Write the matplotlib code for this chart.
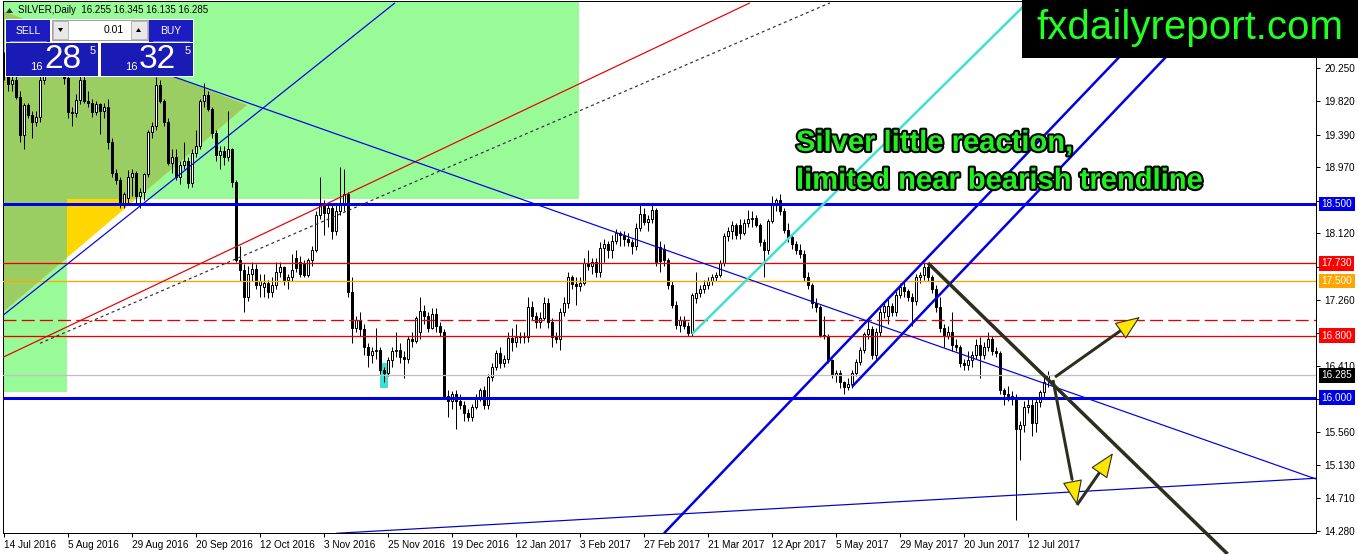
import matplotlib
matplotlib.use('Agg')
import matplotlib.pyplot as plt
import matplotlib.patches as mpatches
import matplotlib.patheffects as pe
import numpy as np

W, H = 1358, 554

# daily OHLC of SILVER, 14 Jul 2016 .. 19 Jul 2017
opens = [20.35, 20.20, 20.05, 20.10, 19.88, 19.38, 19.77, 19.65, 19.55, 19.62,
         20.10, 20.30, 20.45, 20.35, 20.45, 20.25, 20.12, 19.68, 19.67, 19.84,
         20.10, 19.82, 19.80, 19.68, 19.78, 19.70, 19.75, 19.30, 18.90, 18.80,
         18.50, 18.58, 18.84, 18.90, 18.60, 18.65, 18.88, 19.42, 19.50, 20.03,
         19.82, 19.55, 19.03, 19.10, 18.85, 19.00, 19.05, 18.77, 19.15, 19.25,
         19.82, 19.90, 19.72, 19.41, 19.13, 19.18, 19.10, 19.20, 18.78, 17.77,
         17.65, 17.30, 17.60, 17.66, 17.45, 17.42, 17.48, 17.36, 17.45, 17.62,
         17.68, 17.52, 17.56, 17.80, 17.75, 17.72, 17.58, 17.77, 17.90, 18.35,
         18.48, 18.38, 18.45, 18.15, 18.40, 18.48, 18.62, 17.36, 16.90, 17.00,
         16.88, 16.65, 16.55, 16.60, 16.62, 16.35, 16.32, 16.49, 16.60, 16.62,
         16.52, 16.50, 16.75, 16.73, 16.85, 17.12, 17.05, 16.90, 17.08, 16.92,
         16.84, 16.02, 15.95, 16.05, 15.95, 15.90, 15.80, 15.75, 15.88, 16.00,
         16.10, 15.90, 16.27, 16.40, 16.57, 16.45, 16.50, 16.77, 16.72, 16.78,
         16.80, 16.78, 17.17, 17.05, 16.97, 17.02, 17.22, 16.97, 16.78, 16.75,
         17.10, 17.22, 17.55, 17.46, 17.44, 17.48, 17.73, 17.70, 17.75, 17.62,
         17.93, 17.98, 17.90, 18.02, 18.12, 18.10, 18.04, 18.00, 17.95, 18.19,
         18.37, 18.27, 18.30, 18.42, 17.94, 17.92, 17.78, 17.45, 17.20, 16.93,
         17.00, 16.92, 16.83, 17.28, 17.35, 17.40, 17.45, 17.50, 17.55, 17.58,
         17.73, 18.08, 18.15, 18.22, 18.22, 18.12, 18.25, 18.30, 18.32, 18.22,
         18.00, 17.90, 18.28, 18.48, 18.55, 18.40, 18.16, 18.07, 17.98, 17.90,
         17.85, 17.55, 17.45, 17.22, 17.17, 16.81, 16.79, 16.48, 16.29, 16.32,
         16.20, 16.14, 16.18, 16.32, 16.46, 16.61, 16.82, 16.88, 16.55, 16.85,
         17.10, 17.05, 17.18, 17.10, 17.32, 17.42, 17.37, 17.30, 17.25, 17.55,
         17.58, 17.68, 17.55, 17.40, 17.17, 16.90, 16.80, 16.85, 16.68, 16.65,
         16.45, 16.42, 16.48, 16.55, 16.68, 16.55, 16.65, 16.76, 16.60, 16.57,
         16.10, 16.05, 16.02, 16.00, 15.60, 15.65, 15.88, 15.90, 15.67, 15.94,
         16.07, 16.255]
highs = [20.45, 20.30, 20.15, 20.15, 19.95, 19.80, 19.80, 19.70, 19.70, 20.20,
         20.40, 20.55, 20.60, 20.55, 20.55, 20.35, 20.20, 19.75, 19.92, 20.15,
         20.15, 19.95, 19.85, 19.82, 19.80, 19.80, 19.85, 19.35, 18.95, 18.85,
         18.65, 18.93, 18.95, 18.92, 18.70, 18.90, 19.45, 19.55, 20.13, 20.10,
         19.85, 19.60, 19.20, 19.20, 19.05, 19.30, 19.10, 19.20, 19.45, 19.85,
         20.06, 19.95, 19.75, 19.45, 19.25, 19.25, 19.70, 19.22, 18.80, 17.95,
         17.72, 17.70, 17.75, 17.72, 17.60, 17.60, 17.52, 17.55, 17.75, 17.75,
         17.70, 17.60, 17.85, 17.90, 17.82, 17.78, 17.80, 17.95, 18.40, 18.85,
         18.55, 18.50, 18.50, 18.50, 18.97, 18.95, 18.65, 17.55, 17.05, 17.10,
         16.95, 16.70, 16.65, 16.90, 16.65, 16.40, 16.52, 16.65, 16.85, 16.70,
         16.60, 16.80, 16.85, 17.05, 17.30, 17.20, 17.10, 17.15, 17.15, 16.98,
         16.88, 16.10, 16.08, 16.10, 16.05, 15.95, 15.85, 15.92, 16.05, 16.12,
         16.15, 16.30, 16.45, 16.62, 16.65, 16.55, 16.85, 16.90, 16.95, 16.85,
         16.85, 17.30, 17.25, 17.10, 17.10, 17.30, 17.28, 17.02, 16.85, 17.15,
         17.30, 17.62, 17.58, 17.55, 17.55, 17.80, 17.90, 17.80, 17.80, 18.00,
         18.05, 18.02, 18.10, 18.18, 18.15, 18.15, 18.12, 18.05, 18.25, 18.50,
         18.45, 18.35, 18.50, 18.45, 18.02, 17.98, 17.80, 17.50, 17.25, 17.05,
         17.05, 16.98, 17.35, 17.62, 17.45, 17.52, 17.55, 17.60, 17.62, 17.78,
         18.12, 18.20, 18.28, 18.25, 18.30, 18.30, 18.42, 18.40, 18.35, 18.25,
         18.05, 18.30, 18.60, 18.58, 18.62, 18.45, 18.25, 18.10, 18.02, 17.98,
         17.90, 17.62, 17.48, 17.28, 17.20, 17.05, 16.82, 16.50, 16.35, 16.35,
         16.22, 16.25, 16.35, 16.50, 16.65, 16.85, 17.02, 16.92, 16.90, 17.15,
         17.25, 17.30, 17.22, 17.38, 17.48, 17.50, 17.40, 17.35, 17.60, 17.62,
         17.73, 17.72, 17.58, 17.45, 17.30, 16.95, 16.92, 17.10, 16.75, 16.68,
         16.50, 16.60, 16.60, 16.75, 16.78, 16.72, 16.85, 16.80, 16.65, 16.60,
         16.12, 16.15, 16.08, 16.05, 15.70, 15.95, 16.00, 15.98, 15.98, 16.10,
         16.28, 16.345]
lows = [20.10, 19.95, 19.95, 19.85, 19.30, 19.20, 19.60, 19.35, 19.50, 19.55,
        20.05, 20.20, 20.25, 20.20, 20.15, 20.05, 19.60, 19.50, 19.62, 19.78,
        19.80, 19.75, 19.62, 19.65, 19.40, 19.60, 19.20, 18.85, 18.75, 18.45,
        18.45, 18.50, 18.60, 18.50, 18.45, 18.55, 18.85, 19.35, 19.45, 19.80,
        19.50, 19.00, 18.90, 18.80, 18.75, 18.95, 18.70, 18.72, 19.10, 19.20,
        19.75, 19.70, 19.35, 19.05, 18.95, 19.00, 19.05, 18.72, 17.75, 17.50,
        17.10, 17.25, 17.50, 17.40, 17.30, 17.30, 17.28, 17.30, 17.40, 17.55,
        17.45, 17.40, 17.50, 17.62, 17.55, 17.55, 17.55, 17.70, 17.88, 18.30,
        18.10, 18.20, 18.05, 18.10, 18.35, 18.40, 17.30, 16.70, 16.85, 16.80,
        16.55, 16.40, 16.45, 16.50, 16.30, 16.20, 16.28, 16.40, 16.52, 16.45,
        16.25, 16.45, 16.65, 16.70, 16.75, 16.95, 16.85, 16.88, 16.85, 16.80,
        15.98, 15.75, 15.85, 15.60, 15.85, 15.70, 15.70, 15.70, 15.85, 15.95,
        15.85, 15.85, 16.22, 16.35, 16.38, 16.40, 16.45, 16.60, 16.65, 16.70,
        16.70, 16.72, 17.00, 16.90, 16.90, 17.00, 16.90, 16.65, 16.70, 16.62,
        17.05, 17.15, 17.40, 17.20, 17.38, 17.45, 17.65, 17.60, 17.55, 17.55,
        17.75, 17.80, 17.80, 17.98, 17.95, 17.95, 17.95, 17.85, 17.90, 18.15,
        18.22, 18.15, 18.25, 17.70, 17.62, 17.70, 17.40, 17.15, 16.88, 16.85,
        16.88, 16.80, 16.80, 17.22, 17.30, 17.35, 17.40, 17.45, 17.50, 17.55,
        17.70, 18.02, 18.05, 18.05, 18.05, 18.10, 18.20, 18.20, 18.20, 17.95,
        17.55, 17.85, 18.25, 18.40, 18.35, 18.12, 18.00, 17.92, 17.85, 17.80,
        17.50, 17.40, 17.15, 17.10, 16.78, 16.75, 16.45, 16.25, 16.20, 16.12,
        16.05, 16.10, 16.12, 16.28, 16.42, 16.58, 16.75, 16.50, 16.50, 16.80,
        17.02, 16.95, 17.05, 17.05, 17.28, 17.30, 17.25, 16.92, 17.20, 17.48,
        17.52, 17.50, 17.35, 17.10, 16.85, 16.65, 16.75, 16.60, 16.60, 16.40,
        16.35, 16.35, 16.40, 16.50, 16.25, 16.50, 16.60, 16.55, 16.52, 16.05,
        15.90, 15.95, 15.90, 14.42, 15.20, 15.55, 15.80, 15.50, 15.55, 15.88,
        16.00, 16.135]
closes = [20.20, 20.05, 20.10, 19.88, 19.38, 19.77, 19.65, 19.55, 19.62, 20.10,
          20.30, 20.45, 20.35, 20.45, 20.25, 20.12, 19.68, 19.67, 19.84, 20.10,
          19.82, 19.80, 19.68, 19.78, 19.70, 19.75, 19.30, 18.90, 18.80, 18.50,
          18.62, 18.84, 18.90, 18.60, 18.65, 18.88, 19.42, 19.50, 20.03, 19.82,
          19.55, 19.03, 19.10, 18.85, 19.00, 19.05, 18.77, 19.15, 19.25, 19.82,
          19.90, 19.72, 19.41, 19.13, 19.18, 19.10, 19.20, 18.78, 17.77, 17.65,
          17.30, 17.60, 17.66, 17.45, 17.50, 17.48, 17.36, 17.45, 17.62, 17.68,
          17.52, 17.56, 17.65, 17.67, 17.60, 17.58, 17.77, 17.90, 18.35, 18.48,
          18.38, 18.45, 18.15, 18.40, 18.48, 18.62, 17.36, 16.90, 17.00, 16.88,
          16.65, 16.55, 16.60, 16.62, 16.35, 16.32, 16.49, 16.60, 16.62, 16.52,
          16.50, 16.75, 16.73, 17.02, 17.12, 17.05, 16.90, 17.08, 16.92, 16.84,
          16.02, 15.95, 16.05, 15.95, 15.90, 15.80, 15.75, 15.88, 16.00, 16.10,
          15.90, 16.27, 16.40, 16.57, 16.45, 16.50, 16.77, 16.72, 16.78, 16.80,
          16.78, 17.17, 17.05, 16.97, 17.02, 17.22, 16.97, 16.78, 16.75, 17.10,
          17.22, 17.55, 17.46, 17.44, 17.48, 17.73, 17.70, 17.75, 17.62, 17.93,
          17.98, 17.90, 18.02, 18.12, 18.10, 18.04, 18.00, 17.95, 18.19, 18.37,
          18.27, 18.30, 18.42, 17.75, 17.76, 17.78, 17.45, 17.20, 16.93, 17.00,
          16.92, 16.83, 17.32, 17.35, 17.40, 17.45, 17.50, 17.55, 17.58, 17.73,
          18.08, 18.15, 18.22, 18.10, 18.12, 18.25, 18.30, 18.32, 18.22, 18.00,
          17.90, 18.28, 18.48, 18.55, 18.40, 18.16, 18.07, 17.98, 17.90, 17.85,
          17.55, 17.45, 17.22, 17.17, 16.81, 16.79, 16.48, 16.29, 16.32, 16.20,
          16.14, 16.18, 16.32, 16.46, 16.61, 16.82, 16.88, 16.55, 16.85, 17.10,
          17.18, 17.18, 17.10, 17.32, 17.42, 17.37, 17.30, 17.25, 17.55, 17.58,
          17.68, 17.55, 17.40, 17.17, 16.90, 16.80, 16.85, 16.68, 16.65, 16.45,
          16.42, 16.48, 16.55, 16.68, 16.55, 16.65, 16.76, 16.60, 16.57, 16.10,
          16.05, 16.02, 16.00, 15.60, 15.65, 15.88, 15.90, 15.67, 15.94, 16.07,
          16.20, 16.285]

date_labels = ['14 Jul 2016', '5 Aug 2016', '29 Aug 2016', '20 Sep 2016', '12 Oct 2016',
               '3 Nov 2016', '25 Nov 2016', '19 Dec 2016', '12 Jan 2017', '3 Feb 2017',
               '27 Feb 2017', '21 Mar 2017', '12 Apr 2017', '5 May 2017', '29 May 2017',
               '20 Jun 2017', '12 Jul 2017']
date_bars = [0, 16, 32, 48, 64, 80, 96, 112, 128, 144, 160, 176, 192, 208, 224, 240, 256]
# grid prices of the right scale; those hidden under a level box get no text
price_ticks = [20.25, 19.82, 19.39, 18.97, 18.54, 18.12, 17.69, 17.26, 16.83,
               16.41, 15.98, 15.56, 15.13, 14.71, 14.28]
hidden_ticks = [18.54, 17.69, 16.83, 15.98]

# horizontal levels: price, colour, width(px), style, label box
levels = [(18.50, '#0000E6', 3, '-', True),
          (17.73, '#E60000', 1.3, '-', True),
          (17.50, '#FFA500', 1.3, '-', True),
          (17.00, '#E60000', 1.3, '--', False),
          (16.80, '#E60000', 1.3, '-', True),
          (16.285, '#C0C0C0', 1.3, '-', False),
          (16.00, '#0000E6', 3, '-', True)]
label_bg = {18.50: '#0000E6', 17.73: '#FF0000', 17.50: '#FFA500', 16.80: '#FF0000',
            16.00: '#0000E6'}

# drawn objects in (bar, price)
trend_lines = [([-1.0, 97.75], [17.03, 21.09], '#0000E6', 1.2, '-'),
               ([-0.25, 186.5], [16.52, 21.09], '#E60000', 1.2, '-'),
               ([9.0, 206.5], [16.70, 21.09], '#333333', 1.2, ':'),
               ([39.0, 328.0], [20.20, 14.95], '#0000E6', 1.2, '-'),
               ([83.0, 328.0], [14.25, 14.96], '#0000C8', 1.2, '-'),
               ([165.0, 294.9], [14.25, 21.26], '#0000E6', 2.5, '-'),
               ([212.0, 306.5], [16.14, 21.26], '#0000E6', 2.5, '-'),
               ([172.0, 255.75], [16.82, 21.09], '#40E0D0', 2.5, '-')]
bear_line = ([231.0, 305.9], [17.735, 13.983])
arrows = [((262.75, 16.265), (284.0, 17.04)),
          ((262.25, 16.227), (268.25, 14.615)),
          ((268.25, 14.615), (277.25, 15.285))]
green_boxes = [(-0.25, 143.75, 18.56, 21.2), (-0.25, 15.75, 16.07, 18.56)]
zone_triangle = [(60.75, 19.773), (-3.5, 21.05), (-3.5, 16.962)]
mark_box = (94.0, 96.0, 16.12, 16.45)

PX = 0.72  # one pixel in points

fig = plt.figure(figsize=(W / 100, H / 100), dpi=100)
fig.patch.set_facecolor('white')
ax = fig.add_axes([3 / W, (H - 533) / H, (1316 - 3) / W, (533 - 1) / H])
ax.set_xlim(-0.25, 328)
ax.set_ylim(14.254, 21.114)

# background zones
boxes = []
for x0, x1, y0, y1 in green_boxes:
    r = mpatches.Rectangle((x0, y0), x1 - x0, y1 - y0, fc='#98FB98', ec='none', zorder=0.5)
    ax.add_patch(r)
    boxes.append(r)
ax.add_patch(mpatches.Polygon(zone_triangle, fc='#FFD700', ec='none', zorder=0.6))
for r in boxes:
    t = mpatches.Polygon(zone_triangle, fc='#9ACD62', ec='none', zorder=0.7)
    ax.add_patch(t)
    t.set_clip_path(r)
x0, x1, y0, y1 = mark_box
ax.add_patch(mpatches.Rectangle((x0, y0), x1 - x0, y1 - y0, fc='#40E0D0', ec='none', zorder=0.8))

# candles
x = np.arange(len(closes))
o = np.array(opens)
c = np.array(closes)
ax.vlines(x, lows, highs, color='black', lw=PX, zorder=4)
bottom = np.minimum(o, c)
height = np.maximum(np.abs(c - o), 0.012)
fills = ['white' if cc >= oo else 'black' for oo, cc in zip(o, c)]
ax.bar(x, height, bottom=bottom, width=0.6, color=fills, edgecolor='black',
       linewidth=PX, zorder=5)

# levels
for price, col, lw, ls, _ in levels:
    if ls == '--':
        ax.axhline(price, color=col, lw=lw * PX, dashes=(10, 4), zorder=6)
    else:
        ax.axhline(price, color=col, lw=lw * PX, zorder=6)

for xs, ys, col, lw, ls in trend_lines:
    if ls == ':':
        ax.plot(xs, ys, color=col, lw=lw * PX, dashes=(2.5, 2.5), zorder=6)
    else:
        ax.plot(xs, ys, color=col, lw=lw * PX, zorder=6, solid_capstyle='butt')
ax.plot(bear_line[0], bear_line[1], color='#2E2E1E', lw=3.5 * PX, zorder=6,
        solid_capstyle='butt', clip_on=False)

for (xa, ya), (xb, yb) in arrows:
    ax.plot([xa, xa + (xb - xa) * 0.8], [ya, ya + (yb - ya) * 0.8], color='#2E2E1E',
            lw=3 * PX, zorder=7, solid_capstyle='butt')
    head = mpatches.FancyArrowPatch((xa + (xb - xa) * 0.72, ya + (yb - ya) * 0.72), (xb, yb),
                                    arrowstyle='-|>,head_length=1.0,head_width=0.4',
                                    mutation_scale=16, fc='#FFE600', ec='#2E2E1E', lw=0.8,
                                    shrinkA=0, shrinkB=0, zorder=8)
    ax.add_patch(head)

# axes look
for s in ax.spines.values():
    s.set_color('black')
    s.set_linewidth(PX)
ax.yaxis.tick_right()
ax.set_yticks(price_ticks)
ax.set_yticklabels(['' if p in hidden_ticks else '%.3f' % p for p in price_ticks])
ax.set_xticks(date_bars)
ax.set_xticklabels(date_labels)
for lbl in ax.get_xticklabels():
    lbl.set_horizontalalignment('left')
ax.tick_params(axis='y', direction='out', length=3, width=PX, pad=3, labelsize=7.2,
               colors='black')
ax.tick_params(axis='x', direction='out', length=3, width=PX, pad=2, labelsize=7.2,
               colors='black')
for lbl in ax.get_xticklabels() + ax.get_yticklabels():
    lbl.set_fontfamily('Liberation Sans')

for price, col, lw, ls, boxed in levels:
    if boxed:
        ax.annotate('%.3f' % price, xy=(1.0, price), xycoords=('axes fraction', 'data'),
                    xytext=(4, 0), textcoords='offset points', ha='left', va='center',
                    fontsize=7.2, family='Liberation Sans', color='white',
                    bbox=dict(boxstyle='square,pad=0.22', fc=label_bg[price], ec='none'),
                    annotation_clip=False, zorder=9)
ax.annotate('16.285', xy=(1.0, 16.285), xycoords=('axes fraction', 'data'),
            xytext=(4, 0), textcoords='offset points', ha='left', va='center',
            fontsize=7.2, family='Liberation Sans', color='white',
            bbox=dict(boxstyle='square,pad=0.22', fc='black', ec='none'),
            annotation_clip=False, zorder=9)

ax.text(198, 19.04, 'Silver little reaction,\nlimited near bearish trendline',
        fontsize=21, fontweight='bold', family='Liberation Sans',
        color='#22EE22', ha='left', va='center', linespacing=1.45, zorder=9,
        path_effects=[pe.withStroke(linewidth=3, foreground='black')])

# overlay in pixel coordinates: trading panel and site banner
ui = fig.add_axes([0, 0, 1, 1], zorder=10)
ui.set_xlim(0, W)
ui.set_ylim(H, 0)
ui.axis('off')
ui.patch.set_alpha(0)

ui.add_patch(mpatches.Polygon([(6, 13), (13, 13), (9.5, 8)], fc='#333333', ec='none'))
ui.text(18, 10, 'SILVER,Daily  16.255 16.345 16.135 16.285', fontsize=7,
        family='Liberation Sans', va='center', ha='left', color='black')
ui.add_patch(mpatches.Rectangle((5, 19), 189, 58, fc='white', ec='none'))
for bx, bw, txt in [(6, 44, 'SELL'), (149, 44, 'BUY')]:
    ui.add_patch(mpatches.Rectangle((bx, 20), bw, 22, fc='#1C1CC0', ec='none'))
    ui.plot([bx + 4, bx + bw - 4], [41, 41], color='#6A6AE0', lw=0.8)
    ui.text(bx + bw / 2, 30.5, txt, fontsize=7.5, family='Liberation Sans', color='white',
            ha='center', va='center')
ui.add_patch(mpatches.Rectangle((52, 20), 96, 20, fc='white', ec='#A0A0A0', lw=0.7))
ui.add_patch(mpatches.Rectangle((53, 21), 15, 18, fc='#E8E8E8', ec='#A0A0A0', lw=0.5))
ui.add_patch(mpatches.Rectangle((131, 21), 16, 18, fc='#E8E8E8', ec='#A0A0A0', lw=0.5))
ui.add_patch(mpatches.Polygon([(58, 28), (63, 28), (60.5, 32)], fc='black', ec='none'))
ui.add_patch(mpatches.Polygon([(136, 32), (141, 32), (138.5, 28)], fc='black', ec='none'))
ui.text(124, 30, '0.01', fontsize=7.5, family='Liberation Sans', ha='right', va='center')
for bx, big in [(6, '28'), (101, '32')]:
    ui.add_patch(mpatches.Rectangle((bx, 43), 92, 33, fc='#1A1AB4', ec='none'))
    ui.text(bx + 37, 67, '16', fontsize=8, family='Liberation Sans', color='white',
            ha='right', va='center')
    ui.text(bx + 38, 60, big, fontsize=24, family='Liberation Sans', color='white',
            ha='left', va='center')
    ui.text(bx + 84, 51, '5', fontsize=8, family='Liberation Sans', color='white',
            ha='left', va='center')

ui.add_patch(mpatches.Rectangle((1022, 0), W - 1022, 58, fc='black', ec='none'))
ui.text(1190, 28, 'fxdailyreport.com', fontsize=29, family='Liberation Sans',
        color='#22FF22', ha='center', va='center')

fig.savefig('out.png', dpi=100)
